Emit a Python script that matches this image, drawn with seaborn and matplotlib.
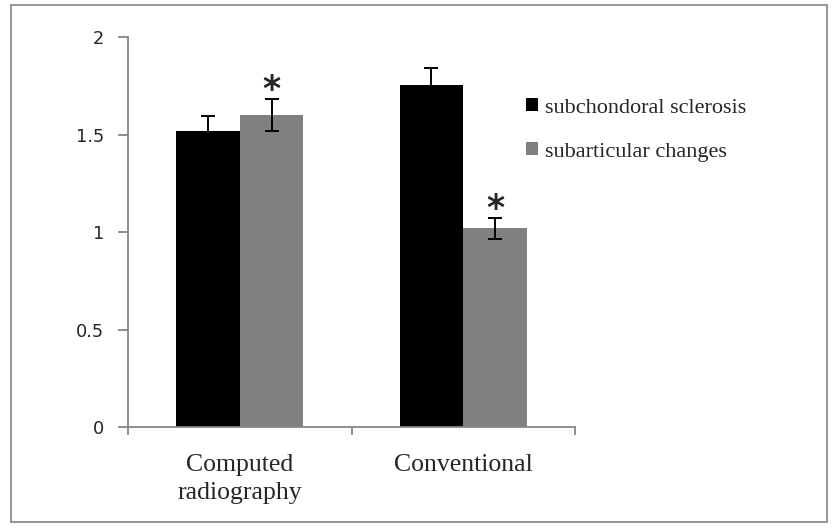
import pandas as pd
import seaborn as sns
import matplotlib.pyplot as plt
from matplotlib.patches import Rectangle

categories = ["Computed\nradiography", "Conventional"]
series = ["subchondoral sclerosis", "subarticular changes"]
sclerosis = [1.52, 1.755]
sclerosis_err = [0.075, 0.085]
changes = [1.60, 1.02]
changes_err = [0.083, 0.055]
significant = [[False, False], [True, True]]  # per series, per category

df = pd.DataFrame({
    "group": categories * 2,
    "series": [series[0]] * 2 + [series[1]] * 2,
    "value": sclerosis + changes,
})
errs = [sclerosis_err, changes_err]

sns.set_style("white")
plt.rcParams["font.family"] = ["Liberation Serif", "DejaVu Serif"]

fig = plt.figure(figsize=(8.36, 5.3), dpi=100)
ax = fig.add_axes([0.153, 0.194, 0.535, 0.736])

sns.barplot(data=df, x="group", y="value", hue="series", hue_order=series,
            palette=["#000000", "#808080"], width=0.57, errorbar=None,
            edgecolor="none", ax=ax)

# error bars and asterisks on top of the drawn bars
bar_groups = list(ax.containers)
for i, cont in enumerate(bar_groups):
    for j, bar in enumerate(cont):
        xc = bar.get_x() + bar.get_width() / 2
        h = bar.get_height()
        ax.errorbar(xc, h, yerr=errs[i][j], fmt="none", ecolor="black",
                    elinewidth=1.4, capsize=4.7, capthick=1.4)
        if significant[i][j]:
            ax.annotate("*", xy=(xc, h + errs[i][j]), xytext=(0, -1.0),
                        textcoords="offset points", ha="center", va="baseline",
                        fontsize=25, fontweight="bold", family="DejaVu Sans")

ax.set_xlim(-0.5, 1.5)
ax.set_ylim(0, 2)
ax.set_yticks([0, 0.5, 1, 1.5, 2])
ax.set_yticklabels(["0", "0.5", "1", "1.5", "2"], family="DejaVu Sans", fontsize=12.8)
ax.set_xticks([0, 1])
ax.set_xticklabels(categories, fontsize=18.5, linespacing=1.35)
ax.set_xticks([-0.5, 0.5, 1.5], minor=True)
ax.tick_params(axis="x", which="major", bottom=False, length=0, pad=19)
ax.tick_params(axis="x", which="minor", bottom=True, length=6, color="#868686",
               width=1.3, direction="out")
ax.tick_params(axis="y", left=True, length=7, color="#868686", width=1.3,
               direction="out", pad=10)
ax.set_xlabel("")
ax.set_ylabel("")

for side in ["top", "right"]:
    ax.spines[side].set_visible(False)
for side in ["left", "bottom"]:
    ax.spines[side].set_color("#868686")
    ax.spines[side].set_linewidth(1.3)

ax.legend(loc="upper left", bbox_to_anchor=(0.89, 0.844), frameon=False,
          fontsize=16, handlelength=0.55, handleheight=0.55, handletextpad=0.3,
          labelspacing=1.1, borderaxespad=0, borderpad=0)

# outer frame of the chart area
fig.patches.append(Rectangle((0.013, 0.015), 0.976, 0.975, transform=fig.transFigure,
                             fill=False, edgecolor="#8c8c8c", linewidth=1.3))

fig.savefig("out.png", dpi=100)
